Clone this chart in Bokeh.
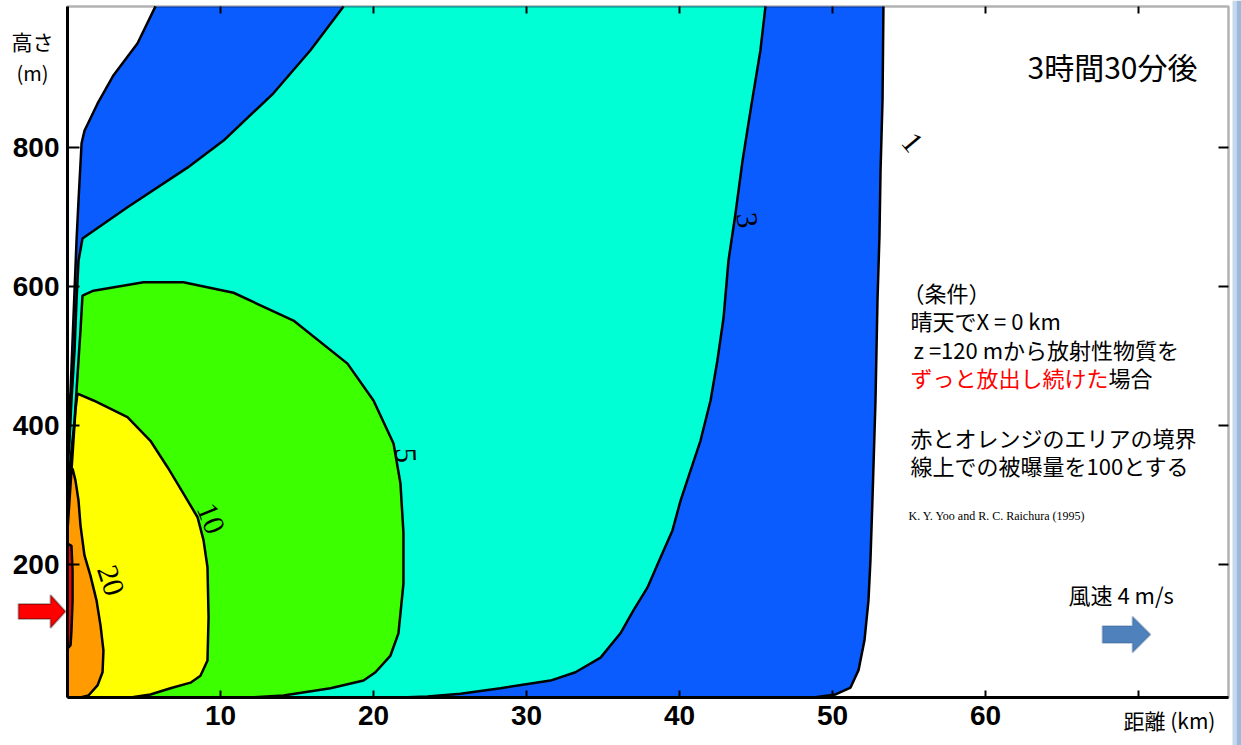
from bokeh.plotting import figure
from bokeh.models import (Range1d, LinearAxis, FixedTicker, Label, PolyAnnotation,
                          BoxAnnotation, Grid)
from bokeh.embed import file_html
from bokeh.resources import INLINE

# ---------------- data (km, m) ----------------
x_ticks = [10, 20, 30, 40, 50, 60]
x_extra_ticks = [70]
y_ticks = [200, 400, 600, 800]

level_names = ["1", "3", "5", "10", "20", "100"]
level_colors = ["#0a5cff", "#00ffd4", "#3cff00", "#ffff00", "#ff9a00", "#ff0000"]

# contour 1 (outer blue boundary)
c1_left_x = [5.75, 4.58, 3.01, 1.96, 1.11, 0.92, 0.72, 0.59, 0.46, 0.33, 0.20, 0.07, 0.0]
c1_left_y = [1003, 950, 904, 863, 824, 806, 724, 666, 594, 522, 450, 407, 378]
c1_right_x = [53.33, 53.27, 53.14, 53.07, 52.94, 52.81, 52.61, 52.48, 52.35, 52.09, 51.70, 51.18, 50.20, 48.76]
c1_right_y = [1003, 868, 767, 673, 580, 436, 292, 206, 148, 91, 48, 23, 13, 8.6]

# contour 3 (cyan)
c3_left_x = [18.04, 15.88, 13.46, 10.20, 7.84, 3.92, 0.98, 0.72, 0.59, 0.46, 0.26, 0.13, 0.0]
c3_left_y = [1003, 940, 878, 810, 771, 714, 669, 637, 580, 508, 436, 378, 335]
c3_right_x = [45.62, 45.29, 44.64, 44.12, 43.66, 43.20, 42.88, 42.48, 42.03, 41.37, 40.72, 40.07,
              39.54, 38.76, 37.91, 36.99, 36.14, 34.84, 33.20, 31.57, 28.30, 25.69, 23.53, 21.76]
c3_right_y = [1003, 940, 853, 781, 705, 637, 555, 494, 436, 378, 335, 292,
              249, 210, 167, 134, 101, 66, 45, 33, 22, 14, 10, 8.6]

# contour 5 (green)
c5_x = [0.0, 0.07, 0.26, 0.46, 0.59, 0.72, 0.85, 0.98, 1.70, 4.97, 7.58, 10.85, 14.77, 18.30,
        20.00, 21.31, 21.76, 21.96, 21.96, 21.63, 21.11, 20.13, 19.35, 17.19, 14.12, 11.96]
c5_y = [292, 321, 364, 407, 450, 494, 537, 587, 594, 606, 606, 591, 551, 489,
        436, 374, 317, 245, 173, 101, 69, 45, 33, 22, 11.5, 8.6]

# contour 10 (yellow)
c10_x = [0.0, 0.13, 0.26, 0.39, 0.52, 0.65, 1.70, 3.92, 5.42, 6.54, 7.58, 8.50, 8.89, 9.15,
         9.22, 9.15, 8.69, 8.04, 6.73, 5.42, 4.12]
c10_y = [249, 292, 335, 378, 422, 446, 436, 412, 378, 340, 302, 268, 235, 196,
         124, 62, 40, 30, 22, 13, 8.6]

# contour 20 (orange)
c20_x = [0.0, 0.20, 0.33, 0.52, 0.72, 0.85, 1.11, 1.50, 1.90, 2.16, 2.35, 2.29, 1.96, 1.37, 0.85]
c20_y = [307, 328, 338, 321, 292, 256, 213, 184, 148, 112, 76, 45, 26, 11.5, 8.6]

# contour 100 (red strip)
c100_x = [0.0, 0.26, 0.33, 0.33, 0.26, 0.20, 0.0]
c100_y = [230, 227, 191, 148, 105, 84, 79]

# contour level labels
clabel_text = ["1", "3", "5", "10", "20"]
clabel_x = [55.2, 44.4, 22.1, 9.35, 2.81]
clabel_y = [807, 695, 357, 266, 177]
clabel_angle = [-50, -82, -88, -68, -72]

# ---------------- page pixel <-> data helpers (for annotation placement) ----------------
PX0, KX = 67, 15.3      # page x of 0 km, px per km
PY0, KY = 703, 0.695    # page y of 0 m, px per m
W, H = 1241, 745


def px2x(px):
    return (px - PX0) / KX


def py2y(py):
    return (PY0 - py) / KY


X_LEFT, X_RIGHT = 0.0, px2x(1228)
Y_BOT, Y_TOP = py2y(697), py2y(6)

p = figure(width=W, height=H,
           x_range=Range1d(px2x(0), px2x(W)), y_range=Range1d(py2y(H), py2y(0)),
           output_backend="svg", toolbar_location=None,
           x_axis_location=None, y_axis_location=None,
           min_border_left=0, min_border_right=0, min_border_top=0, min_border_bottom=0)
for g in p.select(type=Grid):
    g.visible = False
p.background_fill_color = "white"
p.border_fill_color = "white"
p.outline_line_color = None

# light blue strip at the right edge of the scanned page
p.add_layout(BoxAnnotation(left=px2x(1232), right=px2x(1236), bottom=py2y(H), top=py2y(0),
                           fill_color="#c6d8ee", fill_alpha=1, line_color=None))
p.add_layout(BoxAnnotation(left=px2x(1236), right=px2x(W), bottom=py2y(H), top=py2y(0),
                           fill_color="#9cb9dc", fill_alpha=1, line_color=None))

# filled regions
regions = [
    (c1_left_x + [0, c1_right_x[-1]] + c1_right_x[::-1], c1_left_y + [Y_BOT, Y_BOT] + c1_right_y[::-1]),
    (c3_left_x + [0, c3_right_x[-1]] + c3_right_x[::-1], c3_left_y + [Y_BOT, Y_BOT] + c3_right_y[::-1]),
    (c5_x + [c5_x[-1], 0], c5_y + [Y_BOT, Y_BOT]),
    (c10_x + [c10_x[-1], 0], c10_y + [Y_BOT, Y_BOT]),
    (c20_x + [c20_x[-1], 0], c20_y + [Y_BOT, Y_BOT]),
    (c100_x, c100_y),
]
for (xs, ys), col in zip(regions, level_colors):
    p.patch(xs, ys, fill_color=col, line_color=None)

for lx, ly in [(c1_left_x, c1_left_y), (c1_right_x, c1_right_y), (c3_left_x, c3_left_y),
               (c3_right_x, c3_right_y), (c5_x, c5_y), (c10_x, c10_y), (c20_x, c20_y),
               (c100_x, c100_y)]:
    p.line(lx, ly, line_color="black", line_width=2.5)

for t, x, y, a in zip(clabel_text, clabel_x, clabel_y, clabel_angle):
    p.add_layout(Label(x=x, y=y, text=t, angle=a, angle_units="deg",
                       text_font="Liberation Serif", text_font_size="30px",
                       text_align="center", text_baseline="middle", text_color="black"))

# frame box
p.add_layout(BoxAnnotation(left=X_LEFT, right=X_RIGHT, bottom=Y_BOT, top=Y_TOP,
                           fill_alpha=0, line_color="black", line_width=2.5, level="overlay"))

# axes drawn at the frame edges
ax = LinearAxis(fixed_location=Y_BOT, bounds=(X_LEFT, X_RIGHT), ticker=FixedTicker(ticks=x_ticks))
ay = LinearAxis(fixed_location=X_LEFT, bounds=(Y_BOT, Y_TOP), ticker=FixedTicker(ticks=y_ticks))
for a, tin, sto in [(ax, 7, 8), (ay, 12, 8)]:
    a.major_tick_in = tin
    a.major_tick_out = 0
    a.minor_tick_line_color = None
    a.major_tick_line_width = 2
    a.axis_line_width = 3
    a.major_label_standoff = sto
    a.major_label_text_font = "Liberation Sans"
    a.major_label_text_font_style = "bold"
    a.major_label_text_font_size = "28px"
    a.major_label_text_color = "black"
p.add_layout(ax, "below")
p.add_layout(ay, "left")

# inward ticks on the top and right edges, and the unlabeled 70 km tick
tick_len_x = 7 / KY
tick_len_y = 10 / KX
p.segment(x0=x_ticks + x_extra_ticks, y0=[Y_TOP] * 7, x1=x_ticks + x_extra_ticks,
          y1=[Y_TOP - tick_len_x] * 7, line_color="black", line_width=2, level="overlay")
p.segment(x0=x_extra_ticks, y0=[Y_BOT], x1=x_extra_ticks, y1=[Y_BOT + tick_len_x],
          line_color="black", line_width=2, level="overlay")
p.segment(x0=[X_RIGHT] * 4, y0=y_ticks, x1=[X_RIGHT - tick_len_y] * 4, y1=y_ticks,
          line_color="black", line_width=2, level="overlay")

JP = "Noto Sans CJK JP"


def txt(s, px, py, size, color="black", font=JP, align="left"):
    p.add_layout(Label(x=px2x(px), y=py2y(py), text=s, text_font=font,
                       text_font_size=size, text_color=color,
                       text_align=align, text_baseline="middle"))


txt("高さ", 32, 40, "21px", align="center")
txt("(m)", 32, 72, "20px", align="center")
txt("距離 (km)", 1169, 719, "21px", align="center")
txt("3時間30分後", 1027, 65, "30px")
txt("（条件）", 902, 291, "22px")
txt("晴天でX = 0 km", 910, 319, "22px")
txt("z =120 mから放射性物質を", 913, 348, "22px")
txt("ずっと放出し続けた", 910, 376, "22px", color="#ff0000")
txt("場合", 1108, 376, "22px")
txt("赤とオレンジのエリアの境界", 910, 436, "22px")
txt("線上での被曝量を100とする", 910, 464, "22px")
txt("K. Y. Yoo and R. C. Raichura (1995)", 908, 515, "12px", font="Liberation Serif")
txt("風速 4 m/s", 1068, 593, "22px")


def arrow(tail, tip, yc, body_half, head_half, head_base, fill, line):
    pts = [(tail, yc - body_half), (head_base, yc - body_half), (head_base, yc - head_half),
           (tip, yc), (head_base, yc + head_half), (head_base, yc + body_half), (tail, yc + body_half)]
    p.add_layout(PolyAnnotation(xs=[px2x(a) for a, b in pts], ys=[py2y(b) for a, b in pts],
                                fill_color=fill, fill_alpha=1.0, line_color=line, line_width=2))


arrow(1102, 1150, 634, 8.5, 18, 1132, "#4f81bd", "#385d8a")
arrow(18, 65, 611, 7.5, 16.5, 50, "#ff0000", "black")

open("out.html", "w").write(file_html(p, INLINE))
